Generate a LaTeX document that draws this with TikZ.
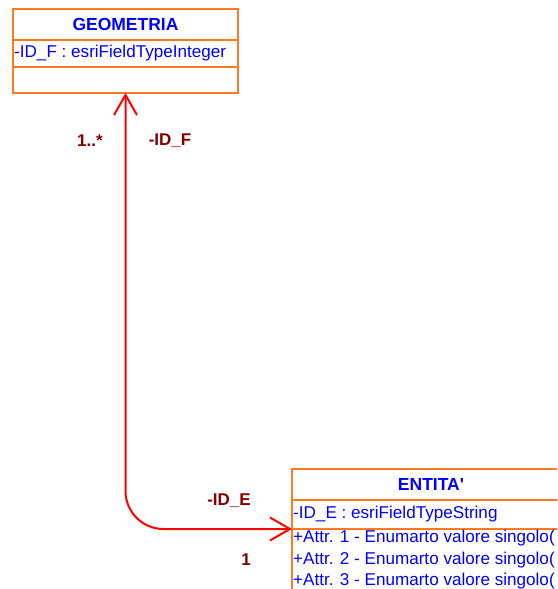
\documentclass[tikz,border=0pt]{standalone}
\usepackage{fontspec}
\setmainfont{Liberation Sans}[Ligatures=TeXOff]
\usetikzlibrary{arrows.meta}
\definecolor{umlorange}{RGB}{255,122,30}
\definecolor{umlblue}{RGB}{0,0,255}
\definecolor{umlred}{RGB}{128,0,0}
\definecolor{connred}{RGB}{255,0,0}
\begin{document}
\begin{tikzpicture}[x=1pt,y=-1pt,
  compart/.style={draw=umlorange, line width=1.4pt, anchor=north west, inner sep=0pt, outer sep=0pt, minimum width=#1},
  titletext/.style={text=umlblue, font=\fontsize{17.5}{20}\selectfont\bfseries, inner sep=0pt},
  attrtext/.style={text=umlblue, font=\fontsize{17.1}{20}\selectfont, anchor=west, inner sep=1pt},
  rolelabel/.style={text=umlred, font=\fontsize{17}{20}\selectfont\bfseries, inner sep=0pt},
  conn/.style={draw=connred, line width=2pt, rounded corners=38pt,
    {Straight Barb[length=20pt,width=23pt]}-{Straight Barb[length=20pt,width=23pt]}}
]
\useasboundingbox (0,0) rectangle (557,589);
\begin{scope}
\clip (0,0) rectangle (557,589);
% GEOMETRIA
\node[compart=225pt, minimum height=31pt] (gtitle) at (13,9) {};
\node[compart=225pt, minimum height=27pt] (gattr) at (13,40) {};
\node[compart=225pt, minimum height=26pt] (gops) at (13,67) {};
% ENTITA'
\node[compart=278pt, minimum height=31pt] (etitle) at (292,469) {};
\node[compart=278pt, minimum height=29pt] (eattr) at (292,500) {};
\node[compart=278pt, minimum height=90pt] (eops) at (292,529) {};
\end{scope}
\node[titletext] (gname) at (gtitle.center) {GEOMETRIA};
\node[attrtext] (gid) at (gattr.west) {-ID\_F : esriFieldTypeInteger};
\node[titletext] (ename) at (etitle.center) {ENTITA'};
\node[attrtext] (eid) at (eattr.west) {-ID\_E : esriFieldTypeString};
\node[attrtext] (ea1) at (292,538.5) {+Attr. 1 - Enumarto valore singolo(};
\node[attrtext] (ea2) at (292,560) {+Attr. 2 - Enumarto valore singolo(};
\node[attrtext] (ea3) at (292,581.5) {+Attr. 3 - Enumarto valore singolo(};
% connector
\draw[conn] (gops.south) |- (eops.north west);
% role labels
\node[rolelabel] (m1) at (90,141) {1..*};
\node[rolelabel] (rf) at (170,141) {-ID\_F};
\node[rolelabel] (re) at (229,501) {-ID\_E};
\node[rolelabel] (m2) at (246,560) {1};
\end{tikzpicture}
\end{document}
